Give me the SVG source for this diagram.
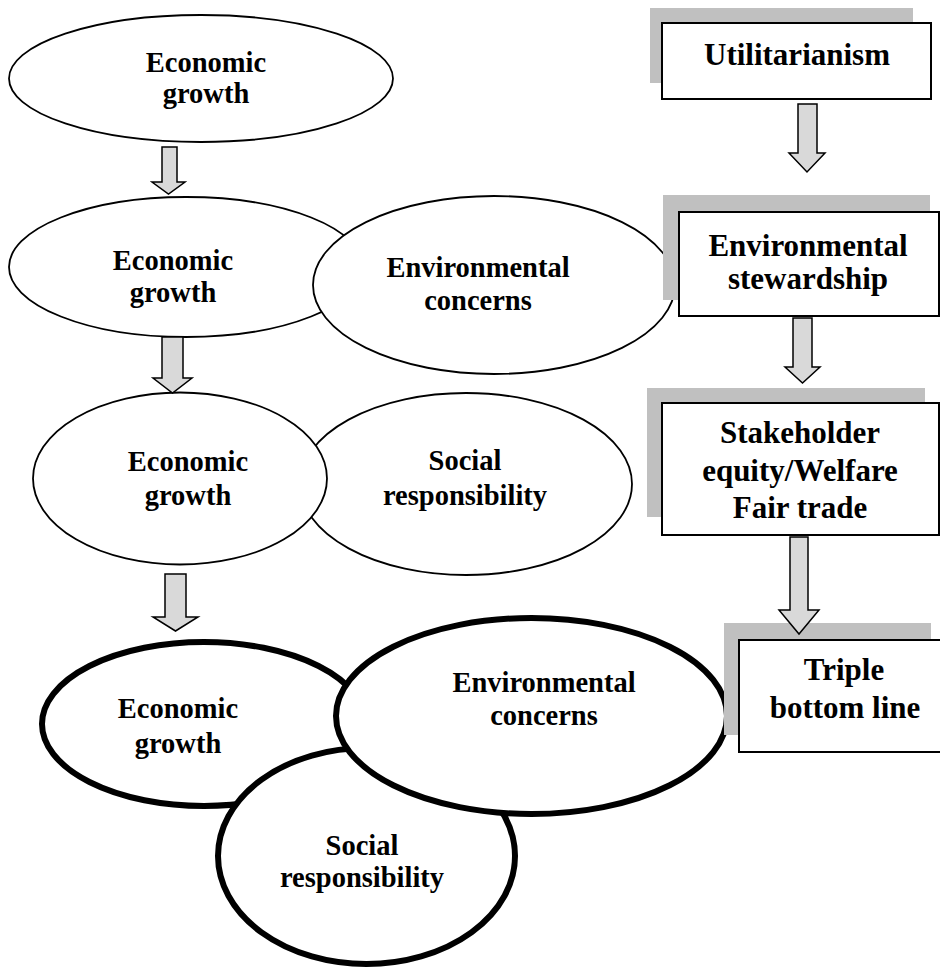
<svg xmlns="http://www.w3.org/2000/svg" width="940" height="968" viewBox="0 0 940 968">
<style>
.t{font-family:"Liberation Serif","Times New Roman",serif;font-weight:bold;fill:#000;text-anchor:middle}
.et{font-size:28.5px}
.bt{font-size:31px}
.el{fill:#fff;stroke:#000;stroke-width:1.8}
.elb{fill:#fff;stroke:#000;stroke-width:6}
.sh{fill:#c0c0c0;stroke:none}
.bx{fill:#fff;stroke:#000;stroke-width:2}
.ar{fill:#d9d9d9;stroke:#000;stroke-width:1.5;stroke-linejoin:miter}
</style>
<rect width="940" height="968" fill="#fff"/>

<g id="eg1">
<ellipse class="el" cx="201" cy="78.5" rx="192" ry="63.5"/>
<text class="t et" x="206" y="72">Economic</text>
<text class="t et" x="206" y="103">growth</text>
</g>

<g id="eg2">
<ellipse class="el" cx="186" cy="267" rx="177" ry="70"/>
<text class="t et" x="173" y="270">Economic</text>
<text class="t et" x="173" y="302">growth</text>
</g>
<g id="env2">
<ellipse class="el" cx="494" cy="285" rx="181" ry="89"/>
<text class="t et" x="478" y="277">Environmental</text>
<text class="t et" x="478" y="310">concerns</text>
</g>

<g id="soc3">
<ellipse class="el" cx="466" cy="484" rx="166" ry="91"/>
<text class="t et" x="465" y="470">Social</text>
<text class="t et" x="465" y="505">responsibility</text>
</g>
<g id="eg3">
<ellipse class="el" cx="180" cy="478.5" rx="147" ry="86"/>
<text class="t et" x="188" y="471">Economic</text>
<text class="t et" x="188" y="505">growth</text>
</g>

<g id="eg4">
<ellipse class="elb" cx="204" cy="724" rx="162" ry="82"/>
<text class="t et" x="178" y="718">Economic</text>
<text class="t et" x="178" y="753">growth</text>
</g>
<g id="soc4">
<ellipse class="elb" cx="366.5" cy="856" rx="148.5" ry="108"/>
<text class="t et" x="362" y="855">Social</text>
<text class="t et" x="362" y="887">responsibility</text>
</g>
<g id="env4">
<ellipse class="elb" cx="531.5" cy="716" rx="195.5" ry="98"/>
<text class="t et" x="544" y="692">Environmental</text>
<text class="t et" x="544" y="725">concerns</text>
</g>

<g id="util">
<rect class="sh" x="650" y="8" width="263" height="75"/>
<rect class="bx" x="662" y="23" width="269" height="76"/>
<text class="t bt" x="797" y="65">Utilitarianism</text>
</g>
<g id="stew">
<rect class="sh" x="663" y="195" width="267" height="105"/>
<rect class="bx" x="679" y="212" width="260" height="104"/>
<text class="t bt" x="808" y="256">Environmental</text>
<text class="t bt" x="808" y="289">stewardship</text>
</g>
<g id="stake">
<rect class="sh" x="647" y="388" width="278" height="129"/>
<rect class="bx" x="662" y="403" width="277" height="132"/>
<text class="t bt" x="800" y="443">Stakeholder</text>
<text class="t bt" x="800" y="480.5">equity/Welfare</text>
<text class="t bt" x="800" y="518">Fair trade</text>
</g>
<g id="tbl">
<rect class="sh" x="724" y="623" width="207" height="112"/>
<rect class="bx" x="739" y="640" width="212" height="112"/>
<text class="t bt" x="844" y="680">Triple</text>
<text class="t bt" x="845" y="718">bottom line</text>
</g>

<g id="connectors">
<polygon class="ar" points="162,147 177,147 177,182 185,182 168.5,194 152,182 162,182"/>
<polygon class="ar" points="162,337 183,337 183,378 192,378 172.5,393 153,378 162,378"/>
<polygon class="ar" points="165,574 186,574 186,617 198,617 175.5,631 153,617 165,617"/>
<polygon class="ar" points="798,104 817,104 817,153 825,153 807,172 789,153 798,153"/>
<polygon class="ar" points="793,318 812,318 812,367 820,367 802.5,383 785,367 793,367"/>
<polygon class="ar" points="790,537 808,537 808,610 819,610 799,634 779,610 790,610"/>
</g>
</svg>
